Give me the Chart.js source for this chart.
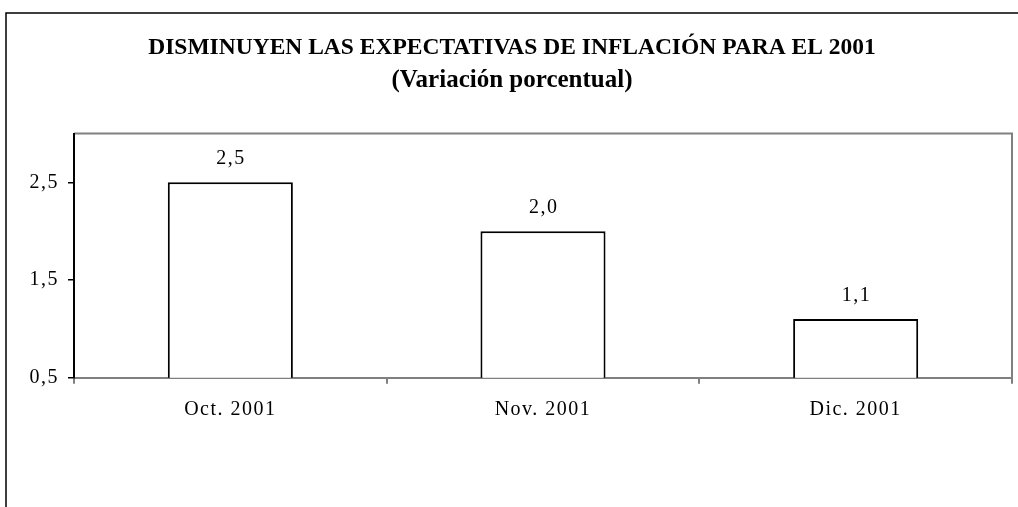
<!DOCTYPE html>
<html>
<head>
<meta charset="utf-8">
<script src="https://cdn.jsdelivr.net/npm/chart.js@4"></script>
<style>
  body { margin: 0; background: #fff; }
  canvas { display: block; }
</style>
</head>
<body>
<canvas id="chart" width="1018" height="507"></canvas>
<script>
const categories = ["Oct. 2001", "Nov. 2001", "Dic. 2001"];
const values = [2.5, 2.0, 1.1];
const yTicks = [0.5, 1.5, 2.5];
const yMin = 0.5;
const yMax = 3.0;

const titleText = "DISMINUYEN LAS EXPECTATIVAS DE INFLACIÓN PARA EL 2001";
const subtitleText = "(Variación porcentual)";

function fmt(v) {
  return v.toFixed(1).replace(".", ",");
}

// outer frame + gray plot border, and spacing for the small text
const decor = {
  id: "decor",
  beforeDraw(chart) {
    const ctx = chart.ctx;
    ctx.letterSpacing = "0px";
    ctx.save();
    ctx.strokeStyle = "#000";
    ctx.lineWidth = 1.5;
    ctx.beginPath();
    ctx.moveTo(6, chart.height + 5);
    ctx.lineTo(6, 13);
    ctx.lineTo(chart.width + 5, 13);
    ctx.stroke();

    const a = chart.chartArea;
    ctx.strokeStyle = "#808080";
    ctx.lineWidth = 2;
    ctx.beginPath();
    ctx.moveTo(a.left, a.top);
    ctx.lineTo(a.right, a.top);
    ctx.lineTo(a.right, a.bottom);
    ctx.stroke();
    ctx.restore();
  },
  afterDatasetsDraw(chart) {
    const ctx = chart.ctx;
    ctx.letterSpacing = "1.5px";
    ctx.save();
    ctx.font = "20px 'Liberation Serif'";
    ctx.fillStyle = "#000";
    ctx.textAlign = "center";
    ctx.textBaseline = "alphabetic";
    const meta = chart.getDatasetMeta(0);
    meta.data.forEach((bar, i) => {
      ctx.fillText(fmt(values[i]), bar.x + 0.75, bar.y - 18);
    });
    ctx.restore();
  },
  afterDraw(chart) {
    chart.ctx.letterSpacing = "0px";
  }
};

new Chart(document.getElementById("chart"), {
  type: "bar",
  data: {
    labels: categories,
    datasets: [{
      data: values,
      backgroundColor: "#ffffff",
      borderColor: "#000000",
      borderWidth: 2,
      borderSkipped: false,
      barPercentage: 0.4,
      categoryPercentage: 1.0
    }]
  },
  options: {
    responsive: false,
    animation: false,
    devicePixelRatio: 1,
    layout: { padding: { top: 34, left: 12, right: 6, bottom: 0 } },
    plugins: {
      legend: { display: false },
      tooltip: { enabled: false },
      title: {
        display: true,
        text: titleText,
        color: "#000",
        font: { family: "'Liberation Serif'", size: 23.5, weight: "bold" },
        padding: { top: 0, bottom: 0 }
      },
      subtitle: {
        display: true,
        text: subtitleText,
        color: "#000",
        font: { family: "'Liberation Serif'", size: 25, weight: "bold" },
        padding: { top: 3.3, bottom: 38 }
      }
    },
    scales: {
      x: {
        offset: true,
        grid: {
          offset: true,
          drawOnChartArea: false,
          drawTicks: true,
          tickLength: 6,
          color: "#808080",
          lineWidth: 2
        },
        border: { display: true, color: "#808080", width: 2 },
        ticks: {
          z: 1,
          padding: 14,
          color: "#000",
          font: { family: "'Liberation Serif'", size: 20 }
        },
        afterFit(scale) { scale.height = 129.3; }
      },
      y: {
        min: yMin,
        max: yMax,
        afterBuildTicks(scale) {
          scale.ticks = yTicks.map(v => ({ value: v }));
        },
        grid: {
          drawOnChartArea: false,
          drawTicks: true,
          tickLength: 6,
          color: "#000",
          lineWidth: 1.5
        },
        border: { display: true, color: "#000", width: 2 },
        ticks: {
          z: 1,
          padding: 9,
          color: "#000",
          font: { family: "'Liberation Serif'", size: 20 },
          callback: v => fmt(v)
        },
        afterFit(scale) { scale.width = 62; }
      }
    }
  },
  plugins: [decor]
});
</script>
</body>
</html>
